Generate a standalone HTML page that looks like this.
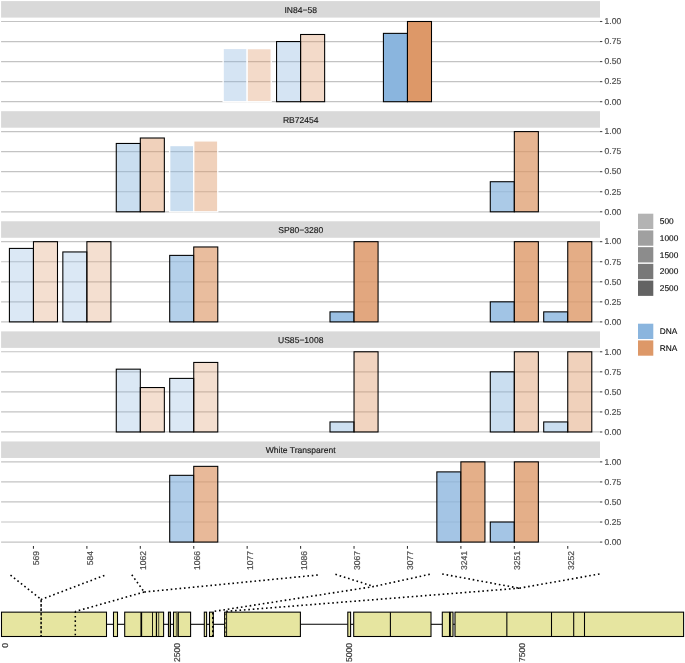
<!DOCTYPE html>
<html><head><meta charset="utf-8"><title>plot</title>
<style>
html,body{margin:0;padding:0;background:#fff;}
svg{display:block;}
text{font-family:"Liberation Sans",sans-serif;font-size:8.55px;text-rendering:geometricPrecision;}
.ax{fill:#4d4d4d;stroke:#4d4d4d;stroke-width:0.2px;}
.st{fill:#1a1a1a;stroke:#1a1a1a;stroke-width:0.15px;}
.lg{fill:#111;font-size:8.3px;stroke:#111;stroke-width:0.15px;}
</style></head><body>
<svg width="685" height="663" viewBox="0 0 685 663">
<rect width="685" height="663" fill="#fff"/>
<g>
<rect x="1.1" y="1.1" width="598.9" height="16.5" fill="#d9d9d9"/>
<text class="st" x="300.7" y="12.95" text-anchor="middle">IN84−58</text>
<line x1="1.1" x2="600" y1="21.5" y2="21.5" stroke="#c3c3c3" stroke-width="1.2"/>
<line x1="600" x2="602.3" y1="21.5" y2="21.5" stroke="#444" stroke-width="1.07"/>
<text class="ax" x="604.6" y="24.3">1.00</text>
<line x1="1.1" x2="600" y1="41.55" y2="41.55" stroke="#c3c3c3" stroke-width="1.2"/>
<line x1="600" x2="602.3" y1="41.55" y2="41.55" stroke="#444" stroke-width="1.07"/>
<text class="ax" x="604.6" y="44.35">0.75</text>
<line x1="1.1" x2="600" y1="61.6" y2="61.6" stroke="#c3c3c3" stroke-width="1.2"/>
<line x1="600" x2="602.3" y1="61.6" y2="61.6" stroke="#444" stroke-width="1.07"/>
<text class="ax" x="604.6" y="64.4">0.50</text>
<line x1="1.1" x2="600" y1="81.65" y2="81.65" stroke="#c3c3c3" stroke-width="1.2"/>
<line x1="600" x2="602.3" y1="81.65" y2="81.65" stroke="#444" stroke-width="1.07"/>
<text class="ax" x="604.6" y="84.45">0.25</text>
<line x1="1.1" x2="600" y1="101.7" y2="101.7" stroke="#c3c3c3" stroke-width="1.2"/>
<line x1="600" x2="602.3" y1="101.7" y2="101.7" stroke="#444" stroke-width="1.07"/>
<text class="ax" x="604.6" y="104.5">0.00</text>
<rect x="223.13" y="48.45" width="24.04" height="53.25" fill="#8ab5de" fill-opacity="0.36" stroke="#fff" stroke-width="1.3"/>
<rect x="247.17" y="48.61" width="24.04" height="53.09" fill="#dd9868" fill-opacity="0.36" stroke="#fff" stroke-width="1.3"/>
<rect x="276.56" y="41.55" width="24.04" height="60.15" fill="#8ab5de" fill-opacity="0.36" stroke="#000" stroke-width="1.07"/>
<rect x="300.6" y="34.49" width="24.04" height="67.21" fill="#dd9868" fill-opacity="0.36" stroke="#000" stroke-width="1.07"/>
<rect x="383.42" y="33.37" width="24.04" height="68.33" fill="#8ab5de" fill-opacity="1" stroke="#000" stroke-width="1.07"/>
<rect x="407.46" y="21.5" width="24.04" height="80.2" fill="#dd9868" fill-opacity="1" stroke="#000" stroke-width="1.07"/>
</g>
<g>
<rect x="1.1" y="111.19" width="598.9" height="16.5" fill="#d9d9d9"/>
<text class="st" x="300.7" y="123.04" text-anchor="middle">RB72454</text>
<line x1="1.1" x2="600" y1="131.59" y2="131.59" stroke="#c3c3c3" stroke-width="1.2"/>
<line x1="600" x2="602.3" y1="131.59" y2="131.59" stroke="#444" stroke-width="1.07"/>
<text class="ax" x="604.6" y="134.39">1.00</text>
<line x1="1.1" x2="600" y1="151.64" y2="151.64" stroke="#c3c3c3" stroke-width="1.2"/>
<line x1="600" x2="602.3" y1="151.64" y2="151.64" stroke="#444" stroke-width="1.07"/>
<text class="ax" x="604.6" y="154.44">0.75</text>
<line x1="1.1" x2="600" y1="171.69" y2="171.69" stroke="#c3c3c3" stroke-width="1.2"/>
<line x1="600" x2="602.3" y1="171.69" y2="171.69" stroke="#444" stroke-width="1.07"/>
<text class="ax" x="604.6" y="174.49">0.50</text>
<line x1="1.1" x2="600" y1="191.74" y2="191.74" stroke="#c3c3c3" stroke-width="1.2"/>
<line x1="600" x2="602.3" y1="191.74" y2="191.74" stroke="#444" stroke-width="1.07"/>
<text class="ax" x="604.6" y="194.54">0.25</text>
<line x1="1.1" x2="600" y1="211.79" y2="211.79" stroke="#c3c3c3" stroke-width="1.2"/>
<line x1="600" x2="602.3" y1="211.79" y2="211.79" stroke="#444" stroke-width="1.07"/>
<text class="ax" x="604.6" y="214.59">0.00</text>
<rect x="116.27" y="143.46" width="24.04" height="68.33" fill="#8ab5de" fill-opacity="0.45" stroke="#000" stroke-width="1.07"/>
<rect x="140.31" y="138.01" width="24.04" height="73.78" fill="#dd9868" fill-opacity="0.45" stroke="#000" stroke-width="1.07"/>
<rect x="169.7" y="145.54" width="24.04" height="66.25" fill="#8ab5de" fill-opacity="0.45" stroke="#fff" stroke-width="1.3"/>
<rect x="193.74" y="140.89" width="24.04" height="70.9" fill="#dd9868" fill-opacity="0.45" stroke="#fff" stroke-width="1.3"/>
<rect x="490.28" y="181.72" width="24.04" height="30.08" fill="#8ab5de" fill-opacity="0.72" stroke="#000" stroke-width="1.07"/>
<rect x="514.32" y="131.59" width="24.04" height="80.2" fill="#dd9868" fill-opacity="0.72" stroke="#000" stroke-width="1.07"/>
</g>
<g>
<rect x="1.1" y="221.28" width="598.9" height="16.5" fill="#d9d9d9"/>
<text class="st" x="300.7" y="233.13" text-anchor="middle">SP80−3280</text>
<line x1="1.1" x2="600" y1="241.68" y2="241.68" stroke="#c3c3c3" stroke-width="1.2"/>
<line x1="600" x2="602.3" y1="241.68" y2="241.68" stroke="#444" stroke-width="1.07"/>
<text class="ax" x="604.6" y="244.48">1.00</text>
<line x1="1.1" x2="600" y1="261.73" y2="261.73" stroke="#c3c3c3" stroke-width="1.2"/>
<line x1="600" x2="602.3" y1="261.73" y2="261.73" stroke="#444" stroke-width="1.07"/>
<text class="ax" x="604.6" y="264.53">0.75</text>
<line x1="1.1" x2="600" y1="281.78" y2="281.78" stroke="#c3c3c3" stroke-width="1.2"/>
<line x1="600" x2="602.3" y1="281.78" y2="281.78" stroke="#444" stroke-width="1.07"/>
<text class="ax" x="604.6" y="284.58">0.50</text>
<line x1="1.1" x2="600" y1="301.83" y2="301.83" stroke="#c3c3c3" stroke-width="1.2"/>
<line x1="600" x2="602.3" y1="301.83" y2="301.83" stroke="#444" stroke-width="1.07"/>
<text class="ax" x="604.6" y="304.63">0.25</text>
<line x1="1.1" x2="600" y1="321.88" y2="321.88" stroke="#c3c3c3" stroke-width="1.2"/>
<line x1="600" x2="602.3" y1="321.88" y2="321.88" stroke="#444" stroke-width="1.07"/>
<text class="ax" x="604.6" y="324.68">0.00</text>
<rect x="9.41" y="248.42" width="24.04" height="73.46" fill="#8ab5de" fill-opacity="0.31" stroke="#000" stroke-width="1.07"/>
<rect x="33.45" y="241.68" width="24.04" height="80.2" fill="#dd9868" fill-opacity="0.31" stroke="#000" stroke-width="1.07"/>
<rect x="62.84" y="251.95" width="24.04" height="69.93" fill="#8ab5de" fill-opacity="0.31" stroke="#000" stroke-width="1.07"/>
<rect x="86.88" y="241.68" width="24.04" height="80.2" fill="#dd9868" fill-opacity="0.31" stroke="#000" stroke-width="1.07"/>
<rect x="169.7" y="255.39" width="24.04" height="66.49" fill="#8ab5de" fill-opacity="0.64" stroke="#000" stroke-width="1.07"/>
<rect x="193.74" y="246.97" width="24.04" height="74.91" fill="#dd9868" fill-opacity="0.64" stroke="#000" stroke-width="1.07"/>
<rect x="329.99" y="311.86" width="24.04" height="10.03" fill="#8ab5de" fill-opacity="0.85" stroke="#000" stroke-width="1.07"/>
<rect x="354.03" y="241.68" width="24.04" height="80.2" fill="#dd9868" fill-opacity="0.85" stroke="#000" stroke-width="1.07"/>
<rect x="490.28" y="301.83" width="24.04" height="20.05" fill="#8ab5de" fill-opacity="0.8" stroke="#000" stroke-width="1.07"/>
<rect x="514.32" y="241.68" width="24.04" height="80.2" fill="#dd9868" fill-opacity="0.8" stroke="#000" stroke-width="1.07"/>
<rect x="543.71" y="311.86" width="24.04" height="10.03" fill="#8ab5de" fill-opacity="0.8" stroke="#000" stroke-width="1.07"/>
<rect x="567.75" y="241.68" width="24.04" height="80.2" fill="#dd9868" fill-opacity="0.8" stroke="#000" stroke-width="1.07"/>
</g>
<g>
<rect x="1.1" y="331.37" width="598.9" height="16.5" fill="#d9d9d9"/>
<text class="st" x="300.7" y="343.22" text-anchor="middle">US85−1008</text>
<line x1="1.1" x2="600" y1="351.77" y2="351.77" stroke="#c3c3c3" stroke-width="1.2"/>
<line x1="600" x2="602.3" y1="351.77" y2="351.77" stroke="#444" stroke-width="1.07"/>
<text class="ax" x="604.6" y="354.57">1.00</text>
<line x1="1.1" x2="600" y1="371.82" y2="371.82" stroke="#c3c3c3" stroke-width="1.2"/>
<line x1="600" x2="602.3" y1="371.82" y2="371.82" stroke="#444" stroke-width="1.07"/>
<text class="ax" x="604.6" y="374.62">0.75</text>
<line x1="1.1" x2="600" y1="391.87" y2="391.87" stroke="#c3c3c3" stroke-width="1.2"/>
<line x1="600" x2="602.3" y1="391.87" y2="391.87" stroke="#444" stroke-width="1.07"/>
<text class="ax" x="604.6" y="394.67">0.50</text>
<line x1="1.1" x2="600" y1="411.92" y2="411.92" stroke="#c3c3c3" stroke-width="1.2"/>
<line x1="600" x2="602.3" y1="411.92" y2="411.92" stroke="#444" stroke-width="1.07"/>
<text class="ax" x="604.6" y="414.72">0.25</text>
<line x1="1.1" x2="600" y1="431.97" y2="431.97" stroke="#c3c3c3" stroke-width="1.2"/>
<line x1="600" x2="602.3" y1="431.97" y2="431.97" stroke="#444" stroke-width="1.07"/>
<text class="ax" x="604.6" y="434.77">0.00</text>
<rect x="116.27" y="369.17" width="24.04" height="62.8" fill="#8ab5de" fill-opacity="0.31" stroke="#000" stroke-width="1.07"/>
<rect x="140.31" y="387.54" width="24.04" height="44.43" fill="#dd9868" fill-opacity="0.31" stroke="#000" stroke-width="1.07"/>
<rect x="169.7" y="378.4" width="24.04" height="53.57" fill="#8ab5de" fill-opacity="0.31" stroke="#000" stroke-width="1.07"/>
<rect x="193.74" y="362.44" width="24.04" height="69.53" fill="#dd9868" fill-opacity="0.31" stroke="#000" stroke-width="1.07"/>
<rect x="329.99" y="421.94" width="24.04" height="10.03" fill="#8ab5de" fill-opacity="0.42" stroke="#000" stroke-width="1.07"/>
<rect x="354.03" y="351.77" width="24.04" height="80.2" fill="#dd9868" fill-opacity="0.42" stroke="#000" stroke-width="1.07"/>
<rect x="490.28" y="371.82" width="24.04" height="60.15" fill="#8ab5de" fill-opacity="0.45" stroke="#000" stroke-width="1.07"/>
<rect x="514.32" y="351.77" width="24.04" height="80.2" fill="#dd9868" fill-opacity="0.45" stroke="#000" stroke-width="1.07"/>
<rect x="543.71" y="421.94" width="24.04" height="10.03" fill="#8ab5de" fill-opacity="0.45" stroke="#000" stroke-width="1.07"/>
<rect x="567.75" y="351.77" width="24.04" height="80.2" fill="#dd9868" fill-opacity="0.45" stroke="#000" stroke-width="1.07"/>
</g>
<g>
<rect x="1.1" y="441.46" width="598.9" height="16.5" fill="#d9d9d9"/>
<text class="st" x="300.7" y="453.31" text-anchor="middle">White Transparent</text>
<line x1="1.1" x2="600" y1="461.86" y2="461.86" stroke="#c3c3c3" stroke-width="1.2"/>
<line x1="600" x2="602.3" y1="461.86" y2="461.86" stroke="#444" stroke-width="1.07"/>
<text class="ax" x="604.6" y="464.66">1.00</text>
<line x1="1.1" x2="600" y1="481.91" y2="481.91" stroke="#c3c3c3" stroke-width="1.2"/>
<line x1="600" x2="602.3" y1="481.91" y2="481.91" stroke="#444" stroke-width="1.07"/>
<text class="ax" x="604.6" y="484.71">0.75</text>
<line x1="1.1" x2="600" y1="501.96" y2="501.96" stroke="#c3c3c3" stroke-width="1.2"/>
<line x1="600" x2="602.3" y1="501.96" y2="501.96" stroke="#444" stroke-width="1.07"/>
<text class="ax" x="604.6" y="504.76">0.50</text>
<line x1="1.1" x2="600" y1="522.01" y2="522.01" stroke="#c3c3c3" stroke-width="1.2"/>
<line x1="600" x2="602.3" y1="522.01" y2="522.01" stroke="#444" stroke-width="1.07"/>
<text class="ax" x="604.6" y="524.81">0.25</text>
<line x1="1.1" x2="600" y1="542.06" y2="542.06" stroke="#c3c3c3" stroke-width="1.2"/>
<line x1="600" x2="602.3" y1="542.06" y2="542.06" stroke="#444" stroke-width="1.07"/>
<text class="ax" x="604.6" y="544.86">0.00</text>
<rect x="169.7" y="475.33" width="24.04" height="66.73" fill="#8ab5de" fill-opacity="0.68" stroke="#000" stroke-width="1.07"/>
<rect x="193.74" y="466.35" width="24.04" height="75.71" fill="#dd9868" fill-opacity="0.68" stroke="#000" stroke-width="1.07"/>
<rect x="436.85" y="471.89" width="24.04" height="70.17" fill="#8ab5de" fill-opacity="0.78" stroke="#000" stroke-width="1.07"/>
<rect x="460.89" y="461.86" width="24.04" height="80.2" fill="#dd9868" fill-opacity="0.78" stroke="#000" stroke-width="1.07"/>
<rect x="490.28" y="522.01" width="24.04" height="20.05" fill="#8ab5de" fill-opacity="0.78" stroke="#000" stroke-width="1.07"/>
<rect x="514.32" y="461.86" width="24.04" height="80.2" fill="#dd9868" fill-opacity="0.78" stroke="#000" stroke-width="1.07"/>
</g>
<line x1="33.45" x2="33.45" y1="546.06" y2="548.76" stroke="#333" stroke-width="1.07"/>
<text class="ax" transform="translate(39.45,550.9) rotate(-90)" text-anchor="end">569</text>
<line x1="86.88" x2="86.88" y1="546.06" y2="548.76" stroke="#333" stroke-width="1.07"/>
<text class="ax" transform="translate(92.88,550.9) rotate(-90)" text-anchor="end">584</text>
<line x1="140.31" x2="140.31" y1="546.06" y2="548.76" stroke="#333" stroke-width="1.07"/>
<text class="ax" transform="translate(146.31,550.9) rotate(-90)" text-anchor="end">1062</text>
<line x1="193.74" x2="193.74" y1="546.06" y2="548.76" stroke="#333" stroke-width="1.07"/>
<text class="ax" transform="translate(199.74,550.9) rotate(-90)" text-anchor="end">1066</text>
<line x1="247.17" x2="247.17" y1="546.06" y2="548.76" stroke="#333" stroke-width="1.07"/>
<text class="ax" transform="translate(253.17,550.9) rotate(-90)" text-anchor="end">1077</text>
<line x1="300.6" x2="300.6" y1="546.06" y2="548.76" stroke="#333" stroke-width="1.07"/>
<text class="ax" transform="translate(306.6,550.9) rotate(-90)" text-anchor="end">1086</text>
<line x1="354.03" x2="354.03" y1="546.06" y2="548.76" stroke="#333" stroke-width="1.07"/>
<text class="ax" transform="translate(360.03,550.9) rotate(-90)" text-anchor="end">3067</text>
<line x1="407.46" x2="407.46" y1="546.06" y2="548.76" stroke="#333" stroke-width="1.07"/>
<text class="ax" transform="translate(413.46,550.9) rotate(-90)" text-anchor="end">3077</text>
<line x1="460.89" x2="460.89" y1="546.06" y2="548.76" stroke="#333" stroke-width="1.07"/>
<text class="ax" transform="translate(466.89,550.9) rotate(-90)" text-anchor="end">3241</text>
<line x1="514.32" x2="514.32" y1="546.06" y2="548.76" stroke="#333" stroke-width="1.07"/>
<text class="ax" transform="translate(520.32,550.9) rotate(-90)" text-anchor="end">3251</text>
<line x1="567.75" x2="567.75" y1="546.06" y2="548.76" stroke="#333" stroke-width="1.07"/>
<text class="ax" transform="translate(573.75,550.9) rotate(-90)" text-anchor="end">3252</text>
<rect x="638" y="213.7" width="15.3" height="15.3" fill="#b3b3b3"/>
<text class="lg" x="659.8" y="224.3">500</text>
<rect x="638" y="230.42" width="15.3" height="15.3" fill="#a0a0a0"/>
<text class="lg" x="659.8" y="241.02">1000</text>
<rect x="638" y="247.14" width="15.3" height="15.3" fill="#8c8c8c"/>
<text class="lg" x="659.8" y="257.74">1500</text>
<rect x="638" y="263.86" width="15.3" height="15.3" fill="#787878"/>
<text class="lg" x="659.8" y="274.46">2000</text>
<rect x="638" y="280.58" width="15.3" height="15.3" fill="#636363"/>
<text class="lg" x="659.8" y="291.18">2500</text>
<rect x="638" y="323.7" width="15.3" height="15.3" fill="#8ab5de"/>
<text class="lg" x="659.8" y="334.3">DNA</text>
<rect x="638" y="340.4" width="15.3" height="15.3" fill="#dd9868"/>
<text class="lg" x="659.8" y="351">RNA</text>
<g stroke="#000" stroke-width="1.07">
<line x1="106.5" x2="113.5" y1="624.3" y2="624.3"/>
<line x1="117.5" x2="124.7" y1="624.3" y2="624.3"/>
<line x1="163.7" x2="168.5" y1="624.3" y2="624.3"/>
<line x1="170.6" x2="173.4" y1="624.3" y2="624.3"/>
<line x1="190.7" x2="204.3" y1="624.3" y2="624.3"/>
<line x1="206.7" x2="209.5" y1="624.3" y2="624.3"/>
<line x1="213.3" x2="224.6" y1="624.3" y2="624.3"/>
<line x1="300.4" x2="347.8" y1="624.3" y2="624.3"/>
<line x1="350.6" x2="353.7" y1="624.3" y2="624.3"/>
<line x1="431" x2="442.3" y1="624.3" y2="624.3"/>
<line x1="453" x2="455" y1="624.3" y2="624.3"/>
<rect x="1.5" y="612.15" width="105" height="24.35" fill="#e6e5a0"/>
<rect x="113.5" y="612.15" width="4" height="24.35" fill="#e6e5a0"/>
<rect x="124.7" y="612.15" width="38.9" height="24.35" fill="#e6e5a0"/>
<rect x="168.45" y="612.15" width="2.05" height="24.35" fill="#a2a16c"/>
<rect x="173.5" y="612.15" width="17.1" height="24.35" fill="#e6e5a0"/>
<rect x="204.3" y="612.15" width="2.3" height="24.35" fill="#e6e5a0"/>
<rect x="209.5" y="612.15" width="3.8" height="24.35" fill="#e6e5a0"/>
<rect x="224.6" y="612.15" width="75.8" height="24.35" fill="#e6e5a0"/>
<rect x="347.8" y="612.15" width="2.8" height="24.35" fill="#e6e5a0"/>
<rect x="353.7" y="612.15" width="77.3" height="24.35" fill="#e6e5a0"/>
<rect x="442.3" y="612.15" width="7.2" height="24.35" fill="#e6e5a0"/>
<rect x="450.3" y="612.15" width="2.7" height="24.35" fill="#e6e5a0"/>
<rect x="455" y="612.15" width="228.6" height="24.35" fill="#e6e5a0"/>
<rect x="176.3" y="612.15" width="1.8" height="24.35" fill="#b4b37c" stroke="none"/>
<line x1="141.3" x2="141.3" y1="612.15" y2="636.5" stroke-width="1.7" stroke-opacity="1"/>
<line x1="152.5" x2="152.5" y1="612.15" y2="636.5" stroke-width="1" stroke-opacity="0.9"/>
<line x1="156.45" x2="156.45" y1="612.15" y2="636.5" stroke-width="1.2" stroke-opacity="1"/>
<line x1="158.7" x2="158.7" y1="612.15" y2="636.5" stroke-width="1" stroke-opacity="0.7"/>
<line x1="176.3" x2="176.3" y1="612.15" y2="636.5" stroke-width="1" stroke-opacity="0.5"/>
<line x1="178.2" x2="178.2" y1="612.15" y2="636.5" stroke-width="1.25" stroke-opacity="1"/>
<line x1="226.6" x2="226.6" y1="612.15" y2="636.5" stroke-width="1" stroke-opacity="0.9"/>
<line x1="390.4" x2="390.4" y1="612.15" y2="636.5" stroke-width="1.07" stroke-opacity="1"/>
<line x1="506.85" x2="506.85" y1="612.15" y2="636.5" stroke-width="1.07" stroke-opacity="1"/>
<line x1="551.5" x2="551.5" y1="612.15" y2="636.5" stroke-width="1.07" stroke-opacity="1"/>
<line x1="573.7" x2="573.7" y1="612.15" y2="636.5" stroke-width="1.07" stroke-opacity="1"/>
<line x1="584.5" x2="584.5" y1="612.15" y2="636.5" stroke-width="1.07" stroke-opacity="1"/>
</g>
<g stroke="#000" stroke-width="1.6" fill="none" stroke-dasharray="1.6 2.83">
<line x1="10.5" y1="575.2" x2="41.1" y2="599.5"/>
<line x1="104.4" y1="575.4" x2="41.1" y2="599.5"/>
<line x1="131.8" y1="574.8" x2="144.2" y2="592"/>
<line x1="317.8" y1="575" x2="144.2" y2="592"/>
<line x1="144.2" y1="592" x2="75.3" y2="611.5"/>
<line x1="335.4" y1="574.3" x2="373.8" y2="586.5"/>
<line x1="429.8" y1="574.3" x2="373.8" y2="586.5"/>
<line x1="373.8" y1="586.5" x2="213.3" y2="611.5"/>
<line x1="442.2" y1="574" x2="519.3" y2="588.2"/>
<line x1="599.5" y1="574" x2="519.3" y2="588.2"/>
<line x1="519.3" y1="588.2" x2="225.4" y2="611.4"/>
<line x1="75.3" y1="611.5" x2="75.3" y2="636.5" stroke-width="1.5"/>
</g>
<g stroke="#000" stroke-width="1.5" fill="none" stroke-dasharray="2.7 1.73">
<line x1="41.1" y1="599.5" x2="41.1" y2="636.5"/>
<line x1="212.9" y1="612.6" x2="212.9" y2="636.5" stroke-width="1.8" stroke-dasharray="1.9 2.53"/>
<line x1="225.6" y1="613.5" x2="225.6" y2="636" stroke-width="1.1" stroke-opacity="0.55" stroke-dasharray="1.7 2.73"/>
</g>
<text class="ax" style="fill:#333" transform="translate(7.8,643.1) rotate(-90)" text-anchor="end">0</text>
<text class="ax" style="fill:#333" transform="translate(180.13,643.1) rotate(-90)" text-anchor="end">2500</text>
<text class="ax" style="fill:#333" transform="translate(352.45,643.1) rotate(-90)" text-anchor="end">5000</text>
<text class="ax" style="fill:#333" transform="translate(524.77,643.1) rotate(-90)" text-anchor="end">7500</text>
</svg>
</body></html>
